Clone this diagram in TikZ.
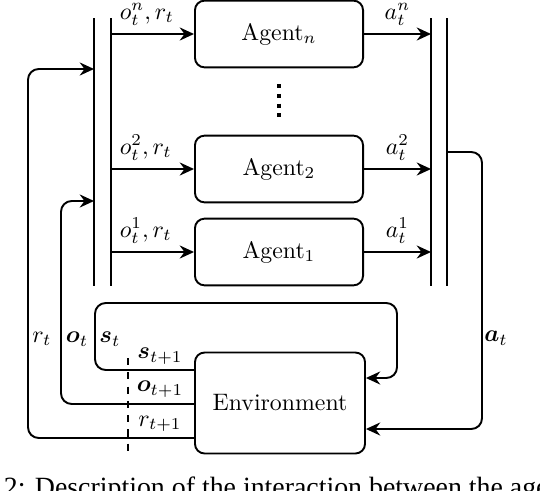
\documentclass[tikz,border=0pt]{standalone}
\usepackage{amsmath}
\usepackage{bm}
\usepackage{fontspec}
\newfontfamily\capfont{Liberation Serif}
\usetikzlibrary{arrows.meta}

\begin{document}
\begin{tikzpicture}[x=0.42pt, y=-0.42pt, thick,
    box/.style={draw, rounded corners=4pt, minimum width=70.6pt, minimum height=28pt},
    arr/.style={-{Stealth[length=6pt,width=5.5pt,inset=2pt]}},
    loopline/.style={arr, rounded corners=4.5pt}]
    \useasboundingbox (0,0) rectangle (540,490);
    \node[box] (agentn) at (279,34) {Agent$_n$};
    \node[box] (agent2) at (279,169) {Agent$_2$};
    \node[box] (agent1) at (279,252) {Agent$_1$};
    \node[box, minimum width=71.4pt, minimum height=42.4pt] (env) at (280,403) {Environment};
    \coordinate (inTop) at (94,18);   \coordinate (inBot) at (94,286);
    \coordinate (obsTop) at (111,18); \coordinate (obsBot) at (111,286);
    \coordinate (actTop) at (431,18); \coordinate (actBot) at (431,286);
    \coordinate (outTop) at (447,18); \coordinate (outBot) at (447,286);
    \draw (inTop) -- (inBot);
    \draw (obsTop) -- (obsBot);
    \draw (actTop) -- (actBot);
    \draw (outTop) -- (outBot);
    \draw[line width=1.7pt, dash pattern=on 1.7pt off 2.4pt] (279,84) -- (279,118);
    \draw[arr] (obsTop |- agentn.west) -- (agentn.west) node[pos=0, above right] {$o_t^n, r_t$};
    \draw[arr] (obsTop |- agent2.west) -- (agent2.west) node[pos=0, above right] {$o_t^2, r_t$};
    \draw[arr] (obsTop |- agent1.west) -- (agent1.west) node[pos=0, above right] {$o_t^1, r_t$};
    \draw[arr] (agentn.east) -- (actTop |- agentn.east) node[midway, above] {$a_t^n$};
    \draw[arr] (agent2.east) -- (actTop |- agent2.east) node[midway, above] {$a_t^2$};
    \draw[arr] (agent1.east) -- (actTop |- agent1.east) node[midway, above] {$a_t^1$};
    \draw[loopline] (outTop |- 0,152) -- (482,152) -- (482,429) -- (env.east |- 0,429);
    \draw[loopline] (env.west |- 0,370) -- (95,370) -- (95,303) -- (397,303) -- (397,378) -- (env.east |- 0,378);
    \draw[loopline] (env.west |- 0,404) -- (61,404) -- (61,201) -- (inTop |- 0,201);
    \draw[loopline] (env.west |- 0,438) -- (28,438) -- (28,69) -- (inTop |- 0,69);
    \node (alab) at (496,338) {$\bm{a}_t$};
    \node (rlab) at (42,339) {$r_t$};
    \node (olab) at (77,339) {$\bm{o}_t$};
    \node (slab) at (110,339) {$\bm{s}_t$};
    \node (snext) at (160,356) {$\bm{s}_{t+1}$};
    \node (onext) at (160,389) {$\bm{o}_{t+1}$};
    \node (rnext) at (160,424) {$r_{t+1}$};
    \draw[dashed] (128,358) -- (128,453);
    \node[anchor=base west, inner sep=0, font=\capfont\fontsize{11.7}{14}\selectfont] (caption) at (3,496)
      {2: Description of the interaction between the age};
\end{tikzpicture}
\end{document}
